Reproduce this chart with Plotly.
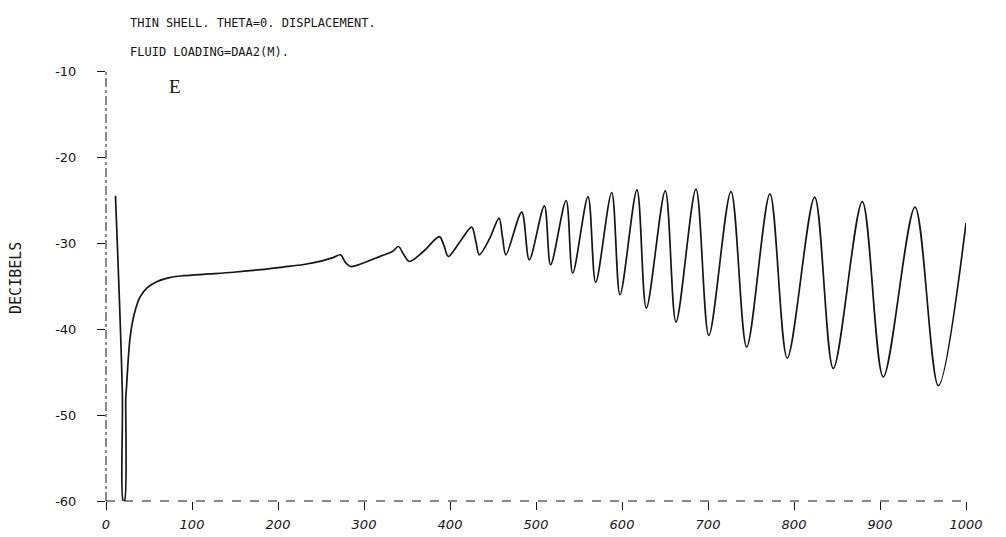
import plotly.graph_objects as go

# Frequency (x) and response in decibels (y)
freq = [11, 19, 20, 21.5, 23, 23.5, 28, 33, 39.5, 48, 59, 75, 90, 120, 148, 180,
        206, 230, 250, 264, 272.7, 278, 284.5, 300, 320, 333, 340, 346, 352.7,
        370, 387.6, 393, 398, 412, 425.2, 430, 434, 446, 457, 461, 465,
        483.4, 492.2, 509.7, 517, 535, 542.7, 560.5, 569.4, 588, 597.7,
        617.4, 628.3, 650.3, 662.8, 686, 701, 726.7, 745, 772, 792.2,
        824, 845.7, 879.4, 903.8, 940.7, 967.8, 1000]
decibels = [-24.5, -47.5, -60, -60, -48, -47.3, -41, -38.2, -36.3, -35.2, -34.5,
            -34.0, -33.8, -33.6, -33.4, -33.1, -32.8, -32.5, -32.1, -31.7, -31.37,
            -32.2, -32.73, -32.3, -31.5, -31.0, -30.41, -31.3, -32.15,
            -30.9, -29.25, -30.3, -31.57, -29.8, -28.15, -29.8, -31.37, -29.5,
            -27.1, -29.3, -31.37,
            -26.4, -31.95, -25.68, -32.53, -25.06, -33.5, -24.6, -34.59, -24.13,
            -36.02, -23.82, -37.56, -23.94, -39.19, -23.74, -40.74, -24.02,
            -42.09, -24.29, -43.37, -24.67, -44.58, -25.18, -45.57, -25.83,
            -46.59, -27.69]

x_ticks = [0, 100, 200, 300, 400, 500, 600, 700, 800, 900, 1000]
x_labels = ["0", "100", "200", "300", "400", "500", "600", "700", "800", "900", "1000"]
y_ticks = [-60, -50, -40, -30, -20, -10]
y_labels = ["-60", "-50", "-40", "-30", "-20", "-10"]

title_1 = "THIN SHELL. THETA=0. DISPLACEMENT."
title_2 = "FLUID LOADING=DAA2(M)."
y_title = "DECIBELS"
panel_letter = "E"

ink = "#151515"
fig = go.Figure()
fig.add_trace(go.Scatter(
    x=freq, y=decibels, mode="lines",
    line=dict(color=ink, width=1.7, shape="spline", smoothing=0.9),
    showlegend=False, hoverinfo="skip", cliponaxis=True,
))

fig.update_xaxes(
    range=[0, 1000], tickvals=x_ticks, ticktext=x_labels,
    ticks="outside", ticklen=8, tickwidth=1, tickcolor=ink,
    showgrid=False, zeroline=False, showline=False, automargin=False,
    tickfont=dict(family="DejaVu Sans", size=13, color=ink, style="italic"),
    ticklabelstandoff=3,
)
fig.update_yaxes(
    range=[-60, -10], tickvals=y_ticks, ticktext=y_labels,
    ticks="outside", ticklen=8, tickwidth=1, tickcolor=ink,
    showgrid=False, zeroline=False, showline=False, automargin=False,
    tickfont=dict(family="DejaVu Sans", size=13, color=ink),
    ticklabelstandoff=18,
)

fig.add_shape(type="line", xref="x domain", yref="y domain", x0=0, x1=0, y0=0, y1=1,
              line=dict(color=ink, width=1, dash="dashdot"))
fig.add_shape(type="line", xref="x domain", yref="y domain", x0=0, x1=1, y0=0, y1=0,
              line=dict(color=ink, width=1, dash="dash"))

txt_font = dict(family="DejaVu Sans Mono", size=12, color=ink)
fig.add_annotation(text=title_1, xref="paper", yref="paper", x=0.0256, y=1.1116,
                   xanchor="left", yanchor="middle", showarrow=False, font=txt_font)
fig.add_annotation(text=title_2, xref="paper", yref="paper", x=0.0256, y=1.044,
                   xanchor="left", yanchor="middle", showarrow=False, font=txt_font)
fig.add_annotation(text=y_title, xref="paper", yref="paper", x=-0.1047, y=0.5186,
                   xanchor="center", yanchor="middle", textangle=-90, showarrow=False,
                   font=dict(family="DejaVu Sans Mono", size=15, color=ink))
fig.add_annotation(text=panel_letter, x=80.8, y=-11.8, xanchor="center", yanchor="middle",
                   showarrow=False, font=dict(family="Liberation Serif", size=19, color=ink))

fig.update_layout(
    width=1006, height=537,
    margin=dict(l=106, r=40, t=71, b=36, autoexpand=False),
    paper_bgcolor="white", plot_bgcolor="white",
)

fig.write_html("out.html", config={"displayModeBar": False},
               post_script="document.body.style.margin='0';")
